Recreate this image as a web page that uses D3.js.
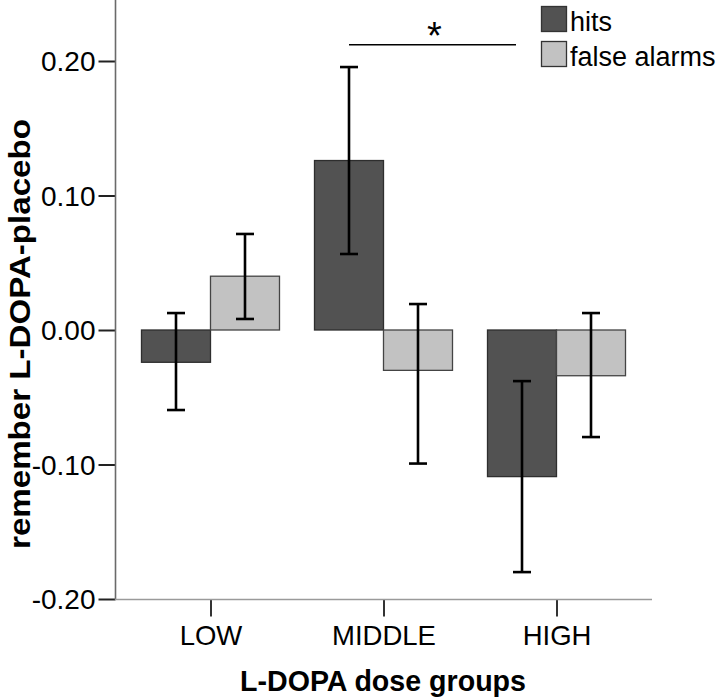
<!DOCTYPE html>
<html><head><meta charset="utf-8">
<script src="https://cdn.jsdelivr.net/npm/d3@7"></script>
<style>
html,body{margin:0;padding:0;background:#fff;}
text{font-family:"Liberation Sans",Arial,sans-serif;}
</style></head>
<body>
<svg id="chart" width="720" height="698"></svg>
<script>
const categories = ["LOW", "MIDDLE", "HIGH"];
const seriesNames = ["hits", "false alarms"];
const hitsValues = [-0.024, 0.126, -0.109];
const hitsLower = [-0.0595, 0.0565, -0.180];
const hitsUpper = [0.0126, 0.1955, -0.038];
const faValues = [0.040, -0.030, -0.034];
const faLower = [0.0082, -0.0993, -0.0796];
const faUpper = [0.0714, 0.0193, 0.0126];
const yTicks = [-0.20, -0.10, 0.00, 0.10, 0.20];
const sigLevel = 0.212;
const sigLabel = "*";
const sigFrom = "MIDDLE", sigTo = "HIGH";

const svg = d3.select("#chart");
const colors = {"hits": "#525252", "false alarms": "#c2c2c2"};
const strokes = {"hits": "#2e2e2e", "false alarms": "#444"};

const y = d3.scaleLinear().domain([-0.2, 0.2]).range([599, 61]);
const x = d3.scalePoint().domain(categories).range([115, 652]).padding(0.552);
const bw = 69;
const xs = d3.scaleBand().domain(seriesNames).range([-bw, bw]);
const fmt = v => d3.format(".2f")(v).replace("\u2212", "-");

const rows = [];
categories.forEach((c, i) => {
  rows.push({cat: c, s: "hits", v: hitsValues[i], lo: hitsLower[i], hi: hitsUpper[i]});
  rows.push({cat: c, s: "false alarms", v: faValues[i], lo: faLower[i], hi: faUpper[i]});
});

// y axis
const yAxis = svg.append("g").attr("transform", "translate(115.5,0)")
  .call(d3.axisLeft(y).tickValues(yTicks).tickFormat(fmt).tickSize(17).tickPadding(3));
yAxis.select(".domain").remove();
yAxis.selectAll(".tick line").attr("stroke", "#222").attr("stroke-width", 2);
yAxis.selectAll(".tick text").attr("font-size", 28).attr("fill", "#000").attr("dy", "0.35em");
svg.append("line").attr("x1", 115.5).attr("x2", 115.5).attr("y1", 0).attr("y2", y(-0.2) + 1)
  .attr("stroke", "#6a6a6a").attr("stroke-width", 1.6);

// x axis
const xAxis = svg.append("g").attr("transform", `translate(0,${y(-0.2) + 0.5})`)
  .call(d3.axisBottom(x).tickSize(17).tickPadding(9));
xAxis.select(".domain").remove();
xAxis.selectAll(".tick line").attr("stroke", "#333").attr("stroke-width", 2);
xAxis.selectAll(".tick text").attr("font-size", 27.5).attr("fill", "#000");
svg.append("line").attr("x1", 115).attr("x2", 652).attr("y1", y(-0.2) + 0.5).attr("y2", y(-0.2) + 0.5)
  .attr("stroke", "#9a9a9a").attr("stroke-width", 1.6);

// bars
svg.append("g").selectAll("rect").data(rows).join("rect")
  .attr("x", d => x(d.cat) + xs(d.s))
  .attr("width", xs.bandwidth())
  .attr("y", d => y(Math.max(0, d.v)))
  .attr("height", d => Math.abs(y(d.v) - y(0)))
  .attr("fill", d => colors[d.s])
  .attr("stroke", d => strokes[d.s]).attr("stroke-width", 1.3);

// error bars
const cap = 9;
const eb = svg.append("g").attr("stroke", "#000").attr("stroke-width", 2.6);
rows.forEach(d => {
  const cx = x(d.cat) + xs(d.s) + xs.bandwidth() / 2;
  eb.append("line").attr("x1", cx).attr("x2", cx).attr("y1", y(d.hi)).attr("y2", y(d.lo));
  eb.append("line").attr("x1", cx - cap).attr("x2", cx + cap).attr("y1", y(d.hi)).attr("y2", y(d.hi));
  eb.append("line").attr("x1", cx - cap).attr("x2", cx + cap).attr("y1", y(d.lo)).attr("y2", y(d.lo));
});

// significance
const sx1 = x(sigFrom) + xs("hits") + xs.bandwidth() / 2;
const sx2 = x(sigTo) + xs("hits") + xs.bandwidth() / 2 - 6;
svg.append("line").attr("x1", sx1).attr("x2", sx2).attr("y1", y(sigLevel)).attr("y2", y(sigLevel))
  .attr("stroke", "#000").attr("stroke-width", 1.5);
svg.append("text").attr("x", (sx1 + sx2) / 2 + 2).attr("y", y(sigLevel) + 4)
  .attr("text-anchor", "middle").attr("font-size", 38).text(sigLabel);

// legend
const lg = svg.append("g").attr("transform", "translate(541,6)");
seriesNames.forEach((s, i) => {
  const g = lg.append("g").attr("transform", `translate(0,${i * 35})`);
  g.append("rect").attr("x", 0.5).attr("y", 0.5).attr("width", 25).attr("height", 25)
    .attr("fill", colors[s]).attr("stroke", "#333").attr("stroke-width", 1.3);
  g.append("text").attr("x", 29).attr("y", 25).attr("font-size", 27).attr("fill", "#000").text(s);
});

// axis titles
svg.append("text").attr("x", 383).attr("y", 691).attr("text-anchor", "middle")
  .attr("font-size", 28.6).attr("font-weight", "bold").text("L-DOPA dose groups");
svg.append("text").attr("transform", "translate(30,334) rotate(-90)").attr("text-anchor", "middle")
  .attr("font-size", 29).attr("font-weight", "bold")
  .attr("textLength", 430).attr("lengthAdjust", "spacingAndGlyphs")
  .text("remember L-DOPA-placebo");
</script>
</body></html>
